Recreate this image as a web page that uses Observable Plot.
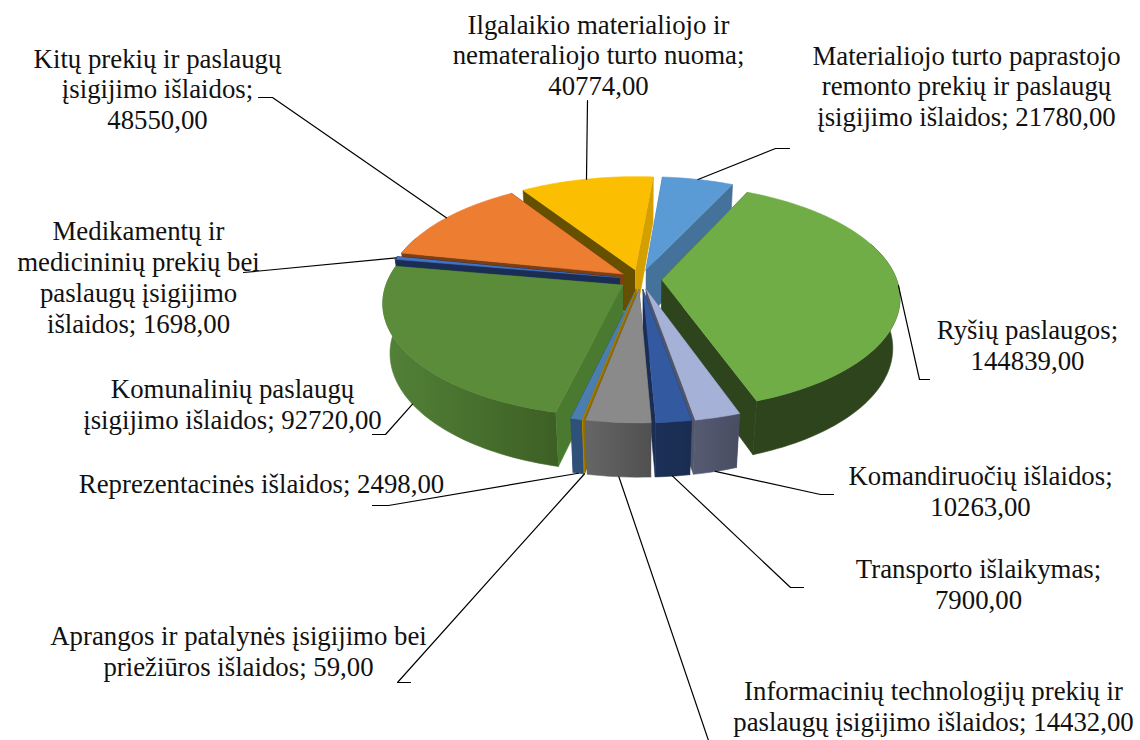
<!DOCTYPE html>
<html><head><meta charset="utf-8">
<style>html,body{margin:0;padding:0;background:#fff}svg{display:block}</style>
<script src="https://cdn.jsdelivr.net/npm/d3@7"></script>
<script src="https://cdn.jsdelivr.net/npm/@observablehq/plot@0.6"></script>
</head><body><div id="c"></div>
<script>
const categories = [
 "Materialiojo turto paprastojo\nremonto prekių ir paslaugų\nįsigijimo išlaidos",
 "Ryšių paslaugos",
 "Komandiruočių išlaidos",
 "Transporto išlaikymas",
 "Informacinių technologijų prekių ir\npaslaugų įsigijimo išlaidos",
 "Aprangos ir patalynės įsigijimo bei\npriežiūros išlaidos",
 "Reprezentacinės išlaidos",
 "Komunalinių paslaugų\nįsigijimo išlaidos",
 "Medikamentų ir\nmedicininių prekių bei\npaslaugų įsigijimo\nišlaidos",
 "Kitų prekių ir paslaugų\nįsigijimo išlaidos",
 "Ilgalaikio materialiojo ir\nnemateraliojo turto nuoma"
];
const values = [21780,144839,10263,7900,14432,59,2498,92720,1698,48550,40774];
const valueOnOwnLine = [false,true,true,true,false,false,false,false,false,true,true];
const topColors  = ["#5B9BD5","#70AD47","#A5B1D6","#335AA1","#8A8A8A","#BE9000","#4A7EB0","#5B8C3A","#4472C4","#ED7D31","#FBBE00"];
const startWall  = ["#44729A","#2E441C","#50566C","#1A2E55","#5C5C5C","#8F6C00","#2F5078","#4A7A2F","#1A2E55","#7A3F15","#665000"];
const endWall    = ["#44729A","#2E441C","#50566C","#1A2E55","#5C5C5C","#8F6C00","#2F5078","#4A7A2F","#1A2E55","#7A3F15","#D4A000"];
const sideFrom   = ["#44729A","#2E441C","#565B72","#1B3058","#666666","#BE9000","#2F5078","#538238","#1A2E55","#7A3F15","#665000"];
const sideTo     = ["#44729A","#2E441C","#484D62","#1A2C50","#505050","#BE9000","#2F5078","#3D5F24","#1A2E55","#7A3F15","#665000"];
// layout
const labelPos = [[966,85],[1027,344],[980,490],[978,583],[933,705],[238,650],[261,483],[232,403],[138,276],[157,88],[598,54]];
const leaderElbows = [
 [[789,148],[775,148]],[[929,379],[919,379]],[[833,494],[820,494]],[[803,587],[790,587]],[[708,740]],
 [[410,682],[397,682]],[[372,505],[388,505]],[[372,434],[385,434]],[[243,272]],[[258,97],[272,97]],[[587,100]]
];
const anchorOnBase = [false,false,true,true,true,true,true,true,false,false,false];
const cx=640, cy=279, R=235, Ry=110, persp=0.15, depth=0.028, wall=51, explode=0.09, startAngle=4.9;

const total = d3.sum(values);
const rad = d=>d*Math.PI/180;
function project(a, mid, r, base){
  const X = r*Math.sin(rad(a)) + explode*Math.sin(rad(mid));
  const Y = -r*Math.cos(rad(a)) - explode*Math.cos(rad(mid));
  const s = 1/(1-persp*Y+(base?depth:0));
  return {x: cx+R*X*s, y: cy+(Ry*Y+(base?wall:0))*s};
}
let acc = startAngle;
const slices = values.map((v,i)=>{
  const a0=acc, a1=acc+v/total*360; acc=a1;
  return {i,a0,a1,mid:(a0+a1)/2};
});
function arc(s,from,to,base){
  const n=Math.max(2,Math.ceil(Math.abs(to-from)/1.5)), out=[];
  for(let k=0;k<=n;k++) out.push(project(from+(to-from)*k/n,s.mid,1,base));
  return out;
}
const polys=[];
const order=[...slices].sort((p,q)=>Math.cos(rad(q.mid))-Math.cos(rad(p.mid)));
for(const s of order){
  const ap=project(s.a0,s.mid,0,false), apB=project(s.a0,s.mid,0,true);
  polys.push({pts:[ap,project(s.a0,s.mid,1,false),project(s.a0,s.mid,1,true),apB],fill:startWall[s.i]});
  polys.push({pts:[ap,project(s.a1,s.mid,1,false),project(s.a1,s.mid,1,true),apB],fill:endWall[s.i]});
  const lo=Math.max(s.a0,70), hi=Math.min(s.a1,290);
  if(lo<hi){
    polys.push({pts:[...arc(s,lo,hi,false),...arc(s,hi,lo,true)],fill:`url(#side${s.i})`});
  }
  polys.push({pts:[ap,...arc(s,s.a0,s.a1,false)],fill:topColors[s.i]});
}
const fmt = v=>v.toFixed(2).replace(".",",");
const labels = categories.map((c,i)=>({x:labelPos[i][0],y:labelPos[i][1],t:c+";"+(valueOnOwnLine[i]?"\n":" ")+fmt(values[i])}));
const leaders = slices.map(s=>{
  const a=project(s.mid,s.mid,1,anchorOnBase[s.i]);
  return [...leaderElbows[s.i].map(([x,y])=>({x,y})),a];
});
const defs = ()=>{
  const d=d3.create("svg:defs");
  values.forEach((_,i)=>{
    const g=d.append("linearGradient").attr("id","side"+i);
    g.append("stop").attr("offset","0%").attr("stop-color",sideFrom[i]);
    g.append("stop").attr("offset","100%").attr("stop-color",sideTo[i]);
  });
  return d.node();
};
const chart = Plot.plot({
  width:1140,height:740,margin:0,
  x:{domain:[0,1140],range:[0,1140],axis:null},
  y:{domain:[0,740],range:[0,740],axis:null},
  marks:[
    defs,
    ...polys.map(p=>Plot.line(p.pts,{x:"x",y:"y",fill:p.fill,stroke:p.fill,strokeWidth:0.6})),
    ...leaders.map(l=>Plot.line(l,{x:"x",y:"y",stroke:"#000",strokeWidth:1.2})),
    Plot.text(labels,{x:"x",y:"y",text:"t",fontFamily:"Liberation Serif",fontSize:26.8,lineHeight:1.15,fill:"#111",textAnchor:"middle"})
  ]
});
document.getElementById("c").append(chart);
</script></body></html>
